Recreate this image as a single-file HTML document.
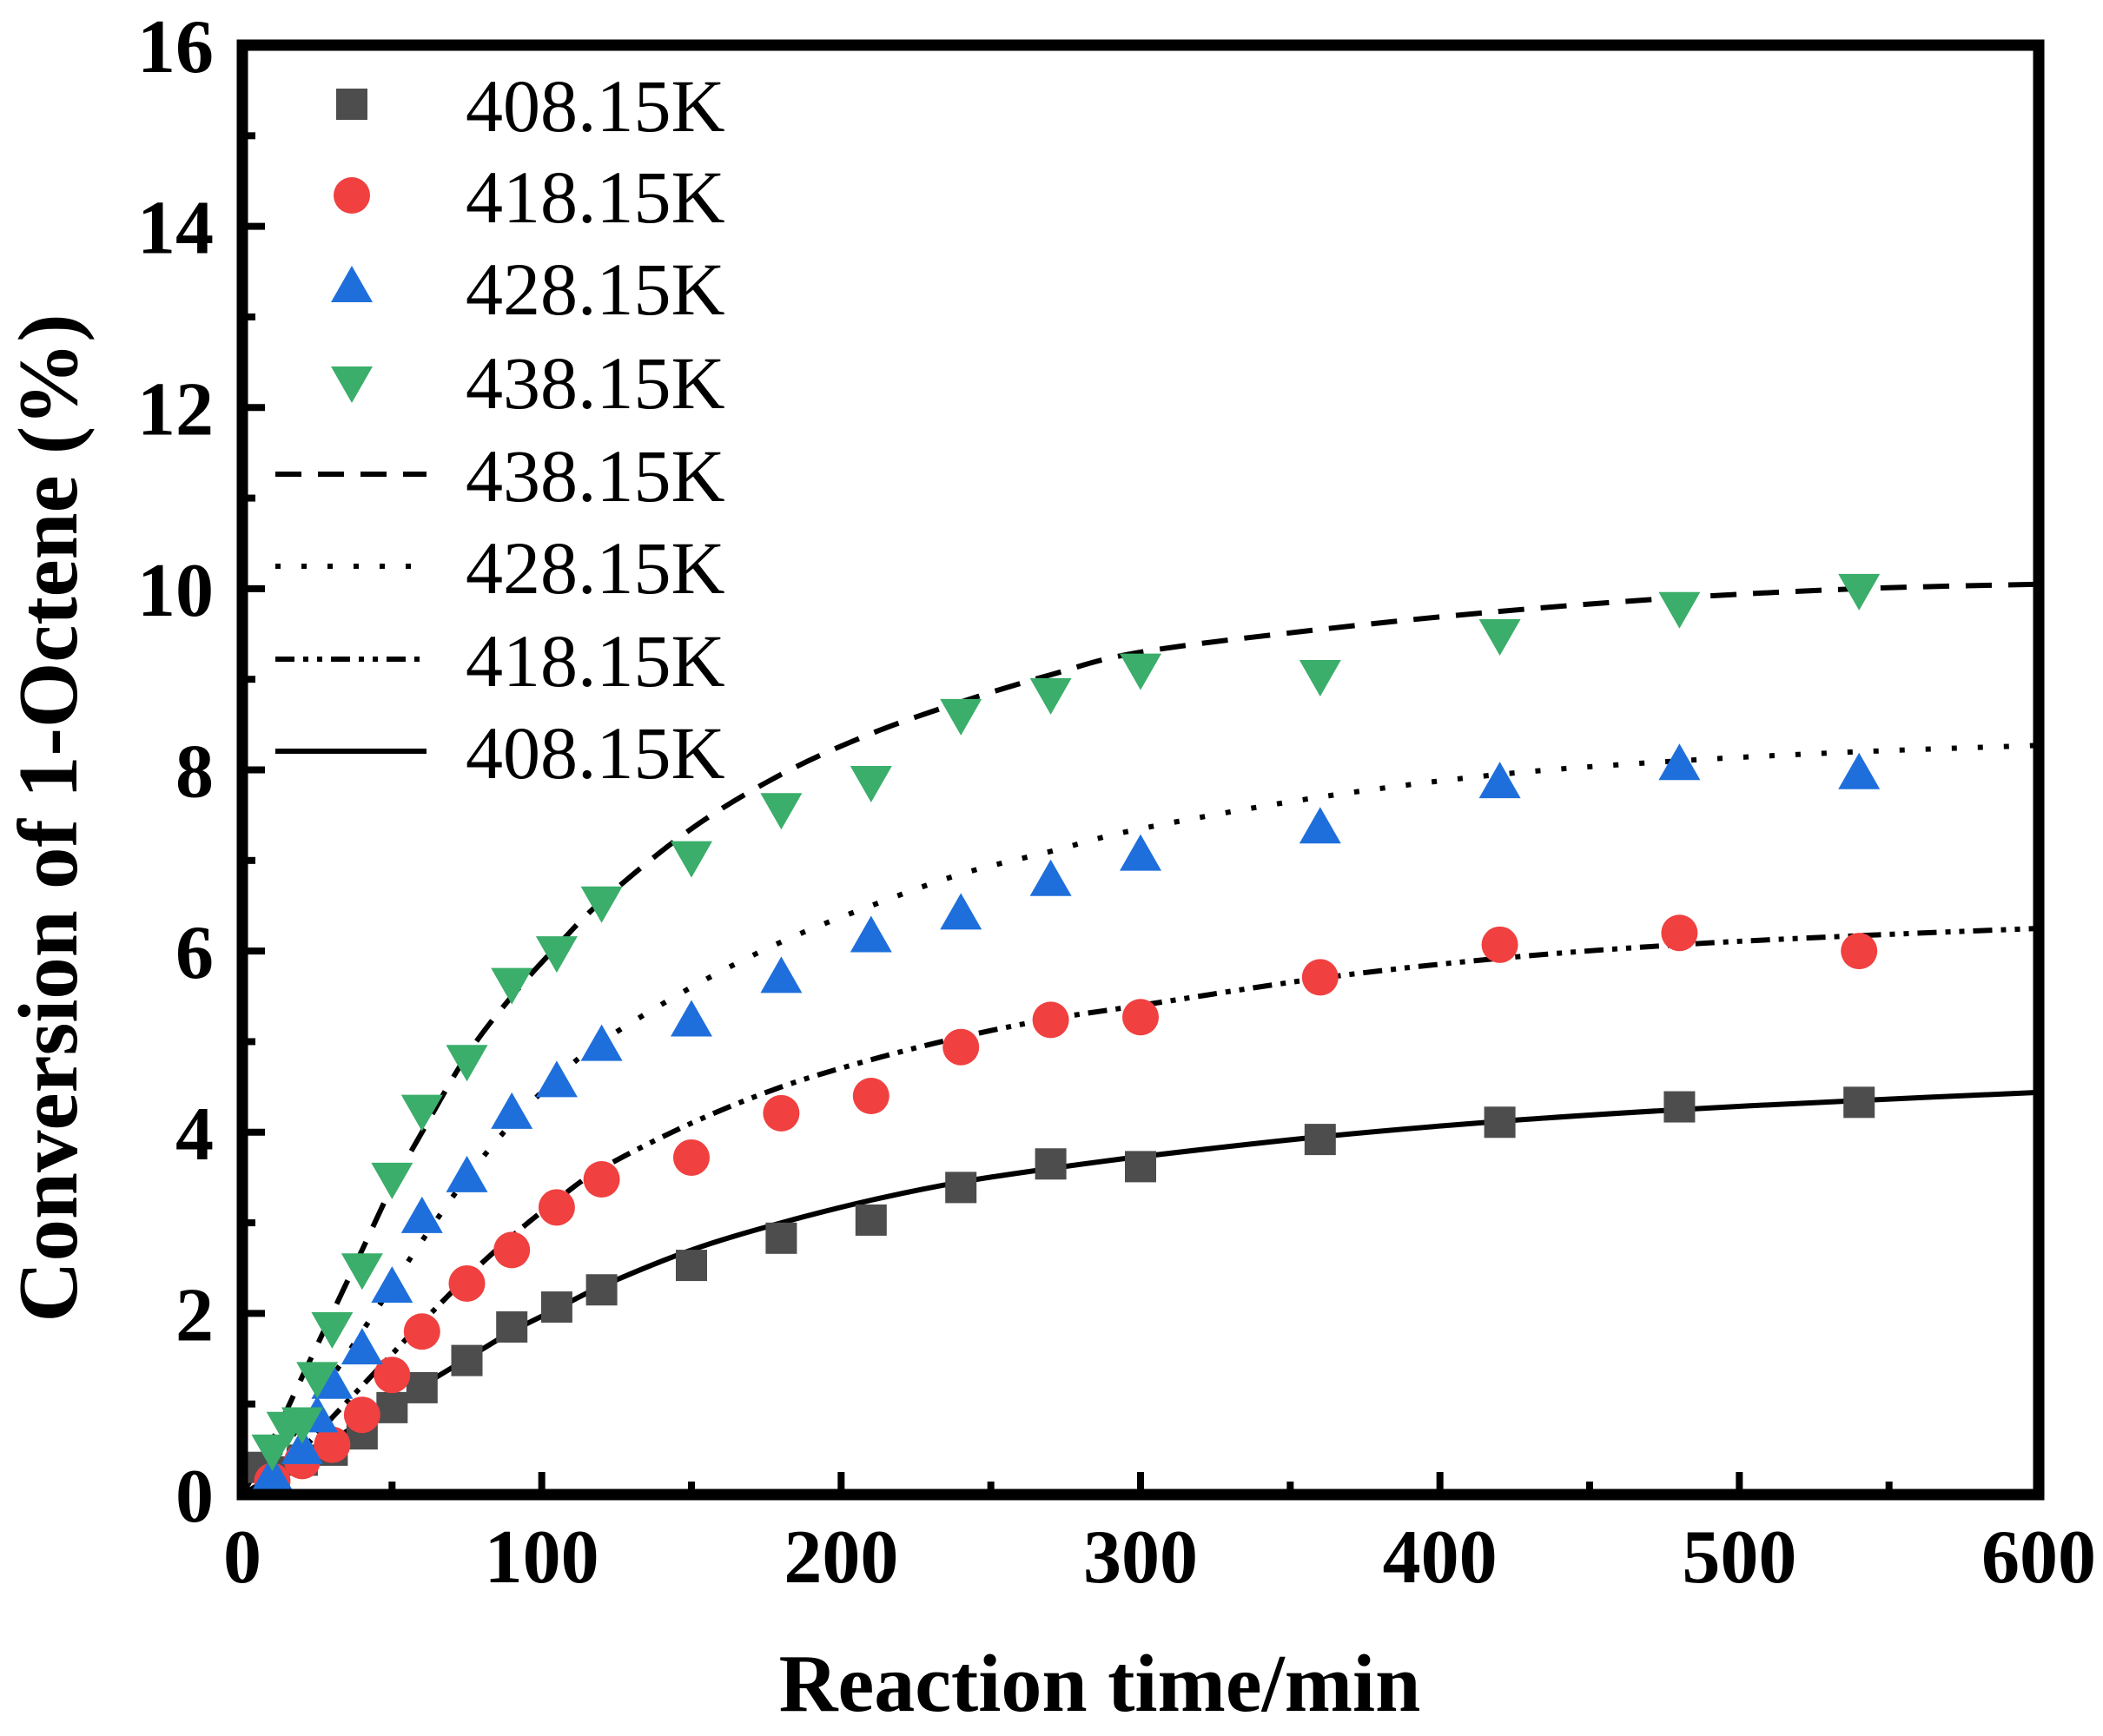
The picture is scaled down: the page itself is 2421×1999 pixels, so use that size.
<!DOCTYPE html>
<html><head><meta charset="utf-8"><style>
html,body{margin:0;padding:0;background:#fff}
svg{display:block}
text{font-family:"Liberation Serif",serif}
</style></head><body>
<svg id="chart" width="2421" height="1999" viewBox="0 0 2421 1999" xmlns="http://www.w3.org/2000/svg">
<g id="curves"></g>
<g id="points"></g>
<g id="axes"></g>
<g id="legend"></g>
<text x="1266" y="1970" font-size="94" font-weight="bold" text-anchor="middle">Reaction time/min</text>
<text transform="translate(88,942) rotate(-90)" font-size="97" font-weight="bold" text-anchor="middle">Conversion of 1-Octene  (%)</text>
</svg>
<script>
const expTimes408 = [5,10,20,30,40,50,60,75,90,105,120,150,180,210,240,270,300,360,420,480,540];
const exp408 = [0.3,0.25,0.38,0.49,0.67,0.96,1.18,1.48,1.85,2.07,2.26,2.53,2.83,3.03,3.39,3.65,3.62,3.92,4.11,4.28,4.33];
const expTimes418 = [10,20,30,40,50,60,75,90,105,120,150,180,210,240,270,300,360,420,480,540];
const exp418 = [0.15,0.37,0.55,0.88,1.32,1.8,2.33,2.7,3.17,3.48,3.72,4.21,4.4,4.94,5.24,5.27,5.71,6.07,6.2,6.0];
const expTimes428 = [10,20,25,30,40,50,60,75,90,105,120,150,180,210,240,270,300,360,420,480,540];
const exp428 = [0.2,0.5,0.85,1.22,1.6,2.28,3.05,3.5,4.2,4.55,4.95,5.22,5.7,6.15,6.4,6.77,7.05,7.35,7.85,8.05,7.95];
const expTimes438 = [10,15,20,25,30,40,50,60,75,90,105,120,150,180,210,240,270,300,360,420,480,540];
const exp438 = [0.5,0.75,0.8,1.3,1.85,2.5,3.5,4.25,4.8,5.65,6.0,6.55,7.05,7.58,7.88,8.62,8.85,9.12,9.05,9.5,9.8,10.0];
const fitTimes = [0,10,20,30,40,50,60,75,90,105,120,150,180,210,240,270,300,360,420,480,540,600];
const fit438 = [0,0.6,1.3,2.0,2.7,3.4,4.0,4.85,5.5,6.05,6.55,7.35,7.95,8.4,8.75,9.05,9.3,9.55,9.75,9.9,10.0,10.05];
const fit428 = [0,0.35,0.8,1.3,1.8,2.3,2.8,3.5,4.1,4.6,5.0,5.6,6.1,6.5,6.85,7.1,7.35,7.7,7.95,8.1,8.2,8.27];
const fit418 = [0,0.2,0.5,0.85,1.2,1.55,1.9,2.4,2.85,3.25,3.6,4.1,4.5,4.8,5.05,5.25,5.4,5.7,5.92,6.07,6.17,6.25];
const fit408 = [0,0.2,0.4,0.6,0.8,1.0,1.2,1.5,1.8,2.05,2.3,2.7,3.0,3.25,3.45,3.6,3.73,3.95,4.12,4.25,4.35,4.44];
const xTicks = [0,100,200,300,400,500,600];
const yTicks = [0,2,4,6,8,10,12,14,16];
const legendLabels = ["408.15K","418.15K","428.15K","438.15K","438.15K","428.15K","418.15K","408.15K"];

const NS="http://www.w3.org/2000/svg";
const L=279,R=2347,T=52,B=1721;
const xs=t=>L+(t/600)*(R-L);
const ys=v=>B-(v/16)*(B-T);
function mk(tag,attrs,parent){const e=document.createElementNS(NS,tag);for(const k in attrs)e.setAttribute(k,attrs[k]);parent.appendChild(e);return e;}
const gC=document.getElementById('curves'),gP=document.getElementById('points'),gA=document.getElementById('axes'),gL=document.getElementById('legend');

function smoothPath(pts){
  let d='M'+pts[0][0].toFixed(1)+' '+pts[0][1].toFixed(1);
  for(let i=0;i<pts.length-1;i++){
    const p0=pts[Math.max(0,i-1)],p1=pts[i],p2=pts[i+1],p3=pts[Math.min(pts.length-1,i+2)];
    const c1x=p1[0]+(p2[0]-p0[0])/6,c1y=p1[1]+(p2[1]-p0[1])/6;
    const c2x=p2[0]-(p3[0]-p1[0])/6,c2y=p2[1]-(p3[1]-p1[1])/6;
    d+=` C${c1x.toFixed(1)} ${c1y.toFixed(1)} ${c2x.toFixed(1)} ${c2y.toFixed(1)} ${p2[0].toFixed(1)} ${p2[1].toFixed(1)}`;
  }
  return d;
}

const styles=[
 {name:'fit-438',data:fit438,dash:'30 19'},
 {name:'fit-428',data:fit428,dash:'6 24'},
 {name:'fit-418',data:fit418,dash:'22 10 6 10 6 10'},
 {name:'fit-408',data:fit408,dash:''}
];
styles.forEach(s=>{
  const pts=fitTimes.map((t,i)=>[xs(t),ys(s.data[i])]);
  const p=mk('path',{d:smoothPath(pts),fill:'none',stroke:'#000','stroke-width':6,'stroke-dasharray':s.dash},gC);
  
  
});

function marker(kind,cx,cy,parent){
  let e;
  if(kind==='sq') e=mk('rect',{x:cx-18,y:cy-18,width:36,height:36,fill:'#4d4d4d'},parent);
  else if(kind==='ci') e=mk('circle',{cx:cx,cy:cy,r:21,fill:'#f04040'},parent);
  else if(kind==='up') e=mk('polygon',{points:`${cx},${cy-25} ${cx-24},${cy+17} ${cx+24},${cy+17}`,fill:'#1e6fdc'},parent);
  else e=mk('polygon',{points:`${cx},${cy+25} ${cx-24},${cy-17} ${cx+24},${cy-17}`,fill:'#3aae6a'},parent);
  return e;
}
[['sq',expTimes408,exp408,'408'],['ci',expTimes418,exp418,'418'],['up',expTimes428,exp428,'428'],['dn',expTimes438,exp438,'438']].forEach(([k,ts,vs,n])=>{
  ts.forEach((t,i)=>{
    const e=marker(k,xs(t),ys(vs[i]),gP);
    
    
  });
});

const fr=mk('rect',{x:L,y:T,width:R-L,height:B-T,fill:'none',stroke:'#000','stroke-width':13},gA);


xTicks.forEach(t=>{
  const x=xs(t);
  const tk=mk('line',{x1:x,y1:B,x2:x,y2:B-26,stroke:'#000','stroke-width':8},gA);
  
  
  if(t<600){const m=mk('line',{x1:xs(t+50),y1:B,x2:xs(t+50),y2:B-15,stroke:'#000','stroke-width':8},gA);
  
  }
  const lb=mk('text',{x:x,y:1822,'font-size':88,'font-weight':'bold','text-anchor':'middle'},gA);
  lb.textContent=t;
  
  
});
yTicks.forEach(v=>{
  const y=ys(v);
  const tk=mk('line',{x1:L,y1:y,x2:L+26,y2:y,stroke:'#000','stroke-width':8},gA);
  
  
  if(v<16){const m=mk('line',{x1:L,y1:ys(v+1),x2:L+15,y2:ys(v+1),stroke:'#000','stroke-width':8},gA);
  
  }
  const lb=mk('text',{x:246,y:y+31,'font-size':88,'font-weight':'bold','text-anchor':'end'},gA);
  lb.textContent=v;
  
  
});

const rowsY=[124,229,335,443,550,656,763,869];
const kinds=['sq','ci','up','dn'];
const dashes=['30 19','6 24','22 10 6 10 6 10',''];
legendLabels.forEach((lab,i)=>{
  const y=rowsY[i];
  if(i<4){const e=marker(kinds[i],405,y-4,gL);
    
    }
  else{const e=mk('line',{x1:317,y1:y-4,x2:491,y2:y-4,stroke:'#000','stroke-width':6,'stroke-dasharray':dashes[i-4]},gL);
    
    }
  const t=mk('text',{x:536,y:y+27,'font-size':86},gL);
  t.textContent=lab;
  
  
});
</script>
</body></html>
